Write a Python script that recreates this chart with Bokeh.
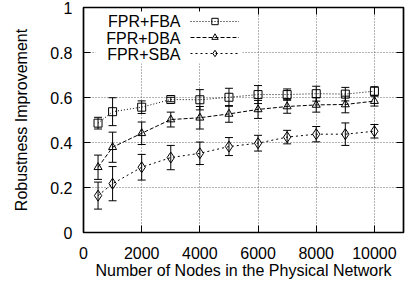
from bokeh.plotting import figure
from bokeh.models import (ColumnDataSource, Whisker, TeeHead, FixedTicker, LinearAxis,
                          CustomJSTickFormatter, Legend, LegendItem, Label, BoxAnnotation, Range1d)
from bokeh.embed import file_html
from bokeh.resources import INLINE

nodes = [500, 1000, 2000, 3000, 4000, 5000, 6000, 7000, 8000, 9000, 10000]
fba = [0.486, 0.537, 0.557, 0.591, 0.590, 0.601, 0.613, 0.613, 0.617, 0.615, 0.628]
fba_err = [0.026, 0.062, 0.028, 0.010, 0.045, 0.040, 0.040, 0.025, 0.033, 0.030, 0.020]
dba = [0.290, 0.379, 0.441, 0.502, 0.510, 0.527, 0.547, 0.560, 0.567, 0.569, 0.584]
dba_err = [0.054, 0.067, 0.050, 0.033, 0.050, 0.037, 0.040, 0.030, 0.032, 0.037, 0.022]
sba = [0.164, 0.217, 0.290, 0.333, 0.352, 0.382, 0.397, 0.424, 0.437, 0.437, 0.450]
sba_err = [0.060, 0.076, 0.057, 0.054, 0.050, 0.040, 0.035, 0.030, 0.034, 0.050, 0.030]
series_names = ["FPR+FBA", "FPR+DBA", "FPR+SBA"]
x_ticks = [0, 2000, 4000, 6000, 8000, 10000]
y_ticks = [0, 0.2, 0.4, 0.6, 0.8, 1.0]

FONT = "Liberation Sans"
FS = "16px"

p = figure(width=411, height=289, output_backend="svg", toolbar_location=None,
           x_range=Range1d(0, 11000), y_range=Range1d(0, 1),
           min_border_left=83, min_border_right=8, min_border_top=7, min_border_bottom=57,
           x_axis_label="Number of Nodes in the Physical Network",
           y_axis_label="Robustness Improvement")
p.background_fill_color = "white"
p.border_fill_color = "white"
p.outline_line_color = "black"
p.outline_line_width = 1.7

for ax, ticks in ((p.xaxis[0], x_ticks), (p.yaxis[0], y_ticks)):
    ax.ticker = FixedTicker(ticks=ticks)
    ax.formatter = CustomJSTickFormatter(code="return String(Math.round(tick*10)/10)")
    ax.major_label_text_font = FONT
    ax.major_label_text_font_size = FS
    ax.major_label_text_color = "black"
    ax.axis_label_text_font = FONT
    ax.axis_label_text_font_size = FS
    ax.axis_label_text_font_style = "normal"
    ax.axis_label_text_color = "black"
    ax.axis_line_color = None
    ax.major_tick_in = 7
    ax.major_tick_out = 0
    ax.major_tick_line_color = "black"
    ax.minor_tick_line_color = None
p.xaxis[0].major_label_standoff = 14
p.xaxis[0].axis_label_standoff = 0
p.yaxis[0].major_label_standoff = 11
p.yaxis[0].axis_label_standoff = 17

for side, ticks in (("above", x_ticks), ("right", y_ticks)):
    ax = LinearAxis(ticker=FixedTicker(ticks=ticks), major_label_text_font_size="1px",
                    major_label_text_color=None,
                    major_label_standoff=0, axis_line_color=None, major_tick_in=7,
                    major_tick_out=0, minor_tick_line_color=None, major_tick_line_color="black")
    p.add_layout(ax, side)

p.xgrid.ticker = FixedTicker(ticks=x_ticks)
p.ygrid.ticker = FixedTicker(ticks=y_ticks)
for g in (p.xgrid[0], p.ygrid[0]):
    g.grid_line_color = "#666666"
    g.grid_line_dash = "1 2"
    g.grid_line_width = 1

# white background behind the key
p.add_layout(BoxAnnotation(left=12, right=159, top=221, bottom=169,
                           left_units="screen", right_units="screen",
                           top_units="screen", bottom_units="screen",
                           fill_color="white", fill_alpha=1, line_color=None))

styles = [("square", "1 2", 8), ("triangle", "4 2", 8), ("diamond", "2 3", 11)]
items = []
for (vals, errs), (marker, dash, size) in zip(((fba, fba_err), (dba, dba_err), (sba, sba_err)), styles):
    src = ColumnDataSource(dict(x=nodes, y=vals,
                                lo=[v - e for v, e in zip(vals, errs)],
                                hi=[v + e for v, e in zip(vals, errs)]))
    p.add_layout(Whisker(source=src, base="x", upper="hi", lower="lo", line_color="black",
                         line_width=1,
                         upper_head=TeeHead(size=8, line_color="black", line_width=1),
                         lower_head=TeeHead(size=8, line_color="black", line_width=1)))
    ln = p.line("x", "y", source=src, line_color="black", line_width=1, line_dash=dash)
    sc = p.scatter("x", "y", source=src, marker=marker, size=size, line_color="black",
                   line_width=1, fill_alpha=0)
    items.append(LegendItem(label=" ", renderers=[ln, sc]))

leg = Legend(items=items, location=(107, 171), padding=0, margin=0, spacing=0,
             glyph_width=49, glyph_height=16, label_height=16, label_width=0,
             label_standoff=0, label_text_font_size="1px", label_text_color=None,
             border_line_color=None, background_fill_alpha=0)
p.add_layout(leg)

for i, name in enumerate(series_names):
    p.add_layout(Label(x=97, y=211 - 16.5 * i, x_units="screen", y_units="screen", text=name,
                       text_align="right", text_baseline="middle", text_font=FONT,
                       text_font_size=FS, text_color="black"))

open("out.html", "w").write(file_html(p, INLINE))
